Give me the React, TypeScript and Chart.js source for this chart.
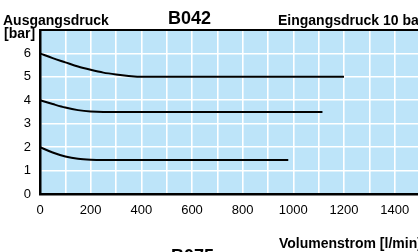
import React, { useEffect, useRef } from "react";
import { Chart, registerables } from "chart.js";

Chart.register(...registerables);

const flowHigh = [0, 50, 100, 150, 200, 250, 300, 350, 400, 1200];
const pressHigh = [6, 5.8, 5.62, 5.44, 5.3, 5.18, 5.1, 5.04, 5.0, 5.0];
const flowMid = [0, 50, 100, 150, 200, 250, 1115];
const pressMid = [4, 3.84, 3.69, 3.58, 3.52, 3.5, 3.5];
const flowLow = [0, 50, 100, 150, 200, 250, 980];
const pressLow = [2, 1.77, 1.6, 1.5, 1.46, 1.45, 1.45];

const xMin = 0;
const xMax = 1500;
const yMin = 0;
const yMax = 7;

const titleText = "B042";
const yTitle1 = "Ausgangsdruck";
const yTitle2 = "[bar]";
const inletText = "Eingangsdruck 10 bar";
const xTitle = "Volumenstrom [l/min]";
const nextTitle = "B075";

const FONT = "'Liberation Sans', Arial, sans-serif";

function pts(xs: number[], ys: number[]) {
  return xs.map((x, i) => ({ x, y: ys[i] }));
}

const textPlugin = {
  id: "texts",
  beforeDraw(chart: any) {
    const { ctx, chartArea } = chart;
    ctx.save();
    ctx.fillStyle = "#bde4f9";
    ctx.fillRect(chartArea.left, chartArea.top, chartArea.right - chartArea.left, chartArea.bottom - chartArea.top);
    ctx.restore();
  },
  afterDraw(chart: any) {
    const { ctx, chartArea } = chart;
    ctx.save();
    ctx.strokeStyle = "#000";
    ctx.lineWidth = 2;
    ctx.beginPath();
    ctx.moveTo(chartArea.left, chartArea.top);
    ctx.lineTo(chartArea.right, chartArea.top);
    ctx.stroke();
    ctx.fillStyle = "#000";
    ctx.textBaseline = "alphabetic";
    ctx.textAlign = "left";
    ctx.font = `bold 14px ${FONT}`;
    ctx.fillText(yTitle1, 3, 25);
    ctx.fillText(yTitle2, 4, 38);
    ctx.fillText(inletText, 278, 25);
    ctx.fillText(xTitle, 279, 248);
    ctx.font = `bold 18px ${FONT}`;
    ctx.fillText(titleText, 168, 24);
    ctx.fillText(nextTitle, 171, 262);
    ctx.restore();
  },
};

export default function App() {
  const ref = useRef<HTMLCanvasElement>(null);
  useEffect(() => {
    if (!ref.current) return;
    const line = (data: any) => ({
      data,
      borderColor: "#000",
      borderWidth: 2,
      pointRadius: 0,
      fill: false,
      cubicInterpolationMode: "monotone" as const,
    });
    const chart = new Chart(ref.current, {
      type: "line",
      data: {
        datasets: [
          line(pts(flowHigh, pressHigh)),
          line(pts(flowMid, pressMid)),
          line(pts(flowLow, pressLow)),
        ],
      },
      plugins: [textPlugin],
      options: {
        animation: false,
        responsive: false,
        devicePixelRatio: 1,
        layout: { padding: { top: 30, left: 0, right: 10, bottom: 0 } },
        plugins: { legend: { display: false }, tooltip: { enabled: false } },
        scales: {
          x: {
            type: "linear",
            min: xMin,
            max: xMax,
            ticks: {
              stepSize: 100,
              autoSkip: false,
              maxRotation: 0,
              padding: 9,
              color: "#000",
              font: { family: FONT, size: 13 },
              callback: (v: any) => (Number(v) % 200 === 0 && Number(v) < 1500 ? String(v) : ""),
            },
            grid: { color: "#ffffff", lineWidth: 1.6, drawTicks: false },
            border: { display: true, color: "#000", width: 2.5 },
            afterFit: (s: any) => {
              s.height = 58;
            },
          },
          y: {
            type: "linear",
            min: yMin,
            max: yMax,
            ticks: {
              stepSize: 1,
              padding: 9,
              color: "#000",
              font: { family: FONT, size: 13 },
              callback: (v: any) => (Number(v) < 7 ? String(v) : ""),
            },
            grid: { color: "#ffffff", lineWidth: 1.6, drawTicks: false },
            border: { display: true, color: "#000", width: 2.5 },
            afterFit: (s: any) => {
              s.width = 40;
            },
          },
        },
      } as any,
    });
    return () => chart.destroy();
  }, []);
  return (
    <div style={{ position: "fixed", left: 0, top: 0, width: 418, height: 252, overflow: "hidden", background: "#fff" }}>
      <canvas ref={ref} width={430} height={252} style={{ width: 430, height: 252, display: "block" }} />
    </div>
  );
}
